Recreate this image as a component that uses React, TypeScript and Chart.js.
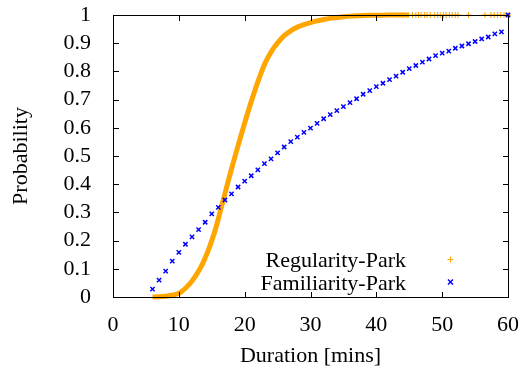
import React, { useEffect, useRef } from 'react';
import { Chart, registerables } from 'chart.js';

Chart.register(...registerables);

// Regularity-Park CDF (dense curve)
const regDurations = [6, 7, 8, 9, 10, 10.5, 11, 11.5, 12, 12.5, 13, 13.5, 14, 14.5, 15, 15.5, 16, 16.5, 17, 17.5, 18, 18.5, 19, 19.5, 20, 20.5, 21, 21.5, 22, 22.5, 23, 23.5, 24, 24.5, 25, 25.5, 26, 27, 28, 29, 30, 31, 32, 33, 34, 35, 36, 38, 40, 42, 45];
const regProbs = [0.0, 0.001, 0.003, 0.006, 0.013, 0.021, 0.031, 0.043, 0.057, 0.073, 0.092, 0.113, 0.139, 0.167, 0.2, 0.236, 0.277, 0.322, 0.367, 0.411, 0.454, 0.496, 0.537, 0.577, 0.617, 0.656, 0.693, 0.729, 0.763, 0.795, 0.824, 0.848, 0.868, 0.886, 0.901, 0.915, 0.927, 0.944, 0.957, 0.966, 0.973, 0.979, 0.984, 0.988, 0.991, 0.994, 0.996, 0.998, 0.999, 1.0, 1.0];
// Regularity-Park sparse tail points (all at probability 1)
const regTailDurations = [45.5, 46, 46.4, 46.8, 47.3, 47.7, 48.2, 48.8, 49.3, 49.7, 50.2, 50.6, 51.1, 51.5, 52.0, 52.4, 54.0, 56.5, 57.4, 57.9, 58.4, 58.9, 59.4, 60];
const regTailProbs = [1, 1, 1, 1, 1, 1, 1, 1, 1, 1, 1, 1, 1, 1, 1, 1, 1, 1, 1, 1, 1, 1, 1, 1];

// Familiarity-Park CDF
const famDurations = [6, 7, 8, 9, 10, 11, 12, 13, 14, 15, 16, 17, 18, 19, 20, 21, 22, 23, 24, 25, 26, 27, 28, 29, 30, 31, 32, 33, 34, 35, 36, 37, 38, 39, 40, 41, 42, 43, 44, 45, 46, 47, 48, 49, 50, 51, 52, 53, 54, 55, 56, 57, 58, 59, 60];
const famProbs = [0.028, 0.06, 0.092, 0.127, 0.158, 0.187, 0.213, 0.239, 0.265, 0.295, 0.318, 0.344, 0.366, 0.39, 0.411, 0.43, 0.451, 0.473, 0.49, 0.511, 0.532, 0.551, 0.567, 0.584, 0.599, 0.616, 0.632, 0.647, 0.661, 0.675, 0.689, 0.703, 0.719, 0.732, 0.746, 0.758, 0.771, 0.783, 0.797, 0.81, 0.821, 0.833, 0.844, 0.856, 0.865, 0.872, 0.882, 0.89, 0.898, 0.906, 0.915, 0.922, 0.933, 0.94, 1.0];

const xTicks = [0, 10, 20, 30, 40, 50, 60];
const yTicks = [0, 0.1, 0.2, 0.3, 0.4, 0.5, 0.6, 0.7, 0.8, 0.9, 1];
const yTickLabels = ['0', '0.1', '0.2', '0.3', '0.4', '0.5', '0.6', '0.7', '0.8', '0.9', '1'];

const seriesNames = ['Regularity-Park', 'Familiarity-Park'];
const xTitle = 'Duration [mins]';
const yTitle = 'Probability';

const ORANGE = '#ffa500';
const BLUE = '#0000ff';
const FONT = '"Liberation Serif", "Times New Roman", serif';

const zip = (xs: number[], ys: number[]) => xs.map((x, i) => ({ x, y: ys[i] }));

function drawFrame(chart: any) {
  const ctx = chart.ctx as CanvasRenderingContext2D;
  const a = chart.chartArea;
  const sx = chart.scales.x;
  const sy = chart.scales.y;
  const L = Math.round(a.left);
  const T = Math.round(a.top);
  const R = Math.round(a.right);
  const B = Math.round(a.bottom);
  const tl = 5;
  ctx.save();
  ctx.globalAlpha = 1;
  ctx.globalCompositeOperation = 'source-over';
  ctx.fillStyle = '#000000';
  ctx.fillRect(L, T, R - L + 1, 1);
  ctx.fillRect(L, B, R - L + 1, 1);
  ctx.fillRect(L, T, 1, B - T + 1);
  ctx.fillRect(R, T, 1, B - T + 1);
  for (let i = 0; i < xTicks.length; i++) {
    const px = Math.round(sx.getPixelForValue(xTicks[i]));
    ctx.fillRect(px, B - tl, 1, tl);
    ctx.fillRect(px, T + 1, 1, tl);
  }
  for (let i = 0; i < yTicks.length; i++) {
    const py = Math.round(sy.getPixelForValue(yTicks[i]));
    ctx.fillRect(L + 1, py, tl, 1);
    ctx.fillRect(R - tl, py, tl, 1);
  }
  ctx.restore();
}

export default function App() {
  const ref = useRef<HTMLCanvasElement | null>(null);

  useEffect(() => {
    if (!ref.current) return;

    const framePlugin = {
      id: 'frame',
      afterDatasetsDraw(chart: any) {
        try {
          drawFrame(chart);
        } catch (e: any) {
          chart.ctx.save();
          chart.ctx.fillStyle = 'red';
          chart.ctx.font = '12px sans-serif';
          chart.ctx.fillText('ERR ' + String(e && e.message), 120, 100);
          chart.ctx.restore();
        }
      },
      afterDraw(chart: any) {
        const { ctx, chartArea: a } = chart;
        ctx.save();
        ctx.fillStyle = '#000';
        ctx.font = `22px ${FONT}`;
        ctx.textAlign = 'center';
        ctx.textBaseline = 'alphabetic';
        ctx.fillText(xTitle, (a.left + a.right) / 2, 361.5);
        ctx.save();
        ctx.translate(27, (a.top + a.bottom) / 2);
        ctx.rotate(-Math.PI / 2);
        ctx.fillText(yTitle, 0, 0);
        ctx.restore();
        ctx.textAlign = 'right';
        ctx.fillText(seriesNames[0], 406, 267);
        ctx.fillText(seriesNames[1], 406, 290);
        const mx = 450.5;
        ctx.lineWidth = 1;
        ctx.strokeStyle = ORANGE;
        ctx.beginPath();
        ctx.moveTo(mx - 3, 259.5);
        ctx.lineTo(mx + 3, 259.5);
        ctx.moveTo(mx, 256.5);
        ctx.lineTo(mx, 262.5);
        ctx.stroke();
        ctx.strokeStyle = BLUE;
        ctx.lineWidth = 1.5;
        ctx.beginPath();
        ctx.moveTo(mx - 2.5, 279.5);
        ctx.lineTo(mx + 2.5, 284.5);
        ctx.moveTo(mx - 2.5, 284.5);
        ctx.lineTo(mx + 2.5, 279.5);
        ctx.stroke();
        ctx.restore();
      },
    };

    const chart = new Chart(ref.current, {
      type: 'scatter',
      data: {
        datasets: [
          {
            label: seriesNames[1],
            data: zip(famDurations, famProbs),
            pointStyle: 'crossRot',
            pointRadius: 3,
            pointBorderWidth: 1.5,
            borderColor: BLUE,
            backgroundColor: BLUE,
            showLine: false,
            order: 0,
            clip: false,
          } as any,
          {
            label: seriesNames[0],
            data: zip(regDurations, regProbs),
            borderColor: ORANGE,
            backgroundColor: ORANGE,
            borderWidth: 5,
            pointRadius: 0,
            showLine: true,
            cubicInterpolationMode: 'monotone',
            order: 1,
            clip: false,
          } as any,
          {
            label: seriesNames[0] + ' tail',
            data: zip(regTailDurations, regTailProbs),
            pointStyle: 'cross',
            pointRadius: 3,
            pointBorderWidth: 1,
            borderColor: ORANGE,
            backgroundColor: ORANGE,
            showLine: false,
            order: 2,
            clip: false,
          } as any,
        ],
      },
      options: {
        responsive: false,
        animation: false,
        layout: { padding: { left: 0, top: 15, right: 17, bottom: 0 } },
        plugins: { legend: { display: false }, tooltip: { enabled: false }, title: { display: false } },
        scales: {
          x: {
            type: 'linear',
            min: 0,
            max: 60,
            grid: { display: false },
            border: { display: false },
            afterFit: (s: any) => { s.height = 69; s.paddingLeft = 0; s.paddingRight = 0; },
            afterBuildTicks: (s: any) => { s.ticks = xTicks.map((v) => ({ value: v })); },
            ticks: { autoSkip: false, maxRotation: 0, padding: 7, color: '#000', font: { family: FONT, size: 22 } },
          },
          y: {
            type: 'linear',
            min: 0,
            max: 1,
            grid: { display: false },
            border: { display: false },
            afterFit: (s: any) => { s.width = 113; s.paddingTop = 0; s.paddingBottom = 0; },
            afterBuildTicks: (s: any) => { s.ticks = yTicks.map((v) => ({ value: v })); },
            ticks: {
              autoSkip: false,
              padding: 14,
              color: '#000',
              font: { family: FONT, size: 22 },
              callback: (v: any) => {
                const i = yTicks.findIndex((t) => Math.abs(t - Number(v)) < 1e-6);
                return i >= 0 ? yTickLabels[i] : '';
              },
            },
          },
        },
      },
      plugins: [framePlugin],
    });

    return () => chart.destroy();
  }, []);

  return (
    <div style={{ position: 'fixed', left: 0, top: 0, width: 525, height: 366, background: '#fff' }}>
      <canvas ref={ref} width={525} height={366} style={{ display: 'block' }} />
    </div>
  );
}
